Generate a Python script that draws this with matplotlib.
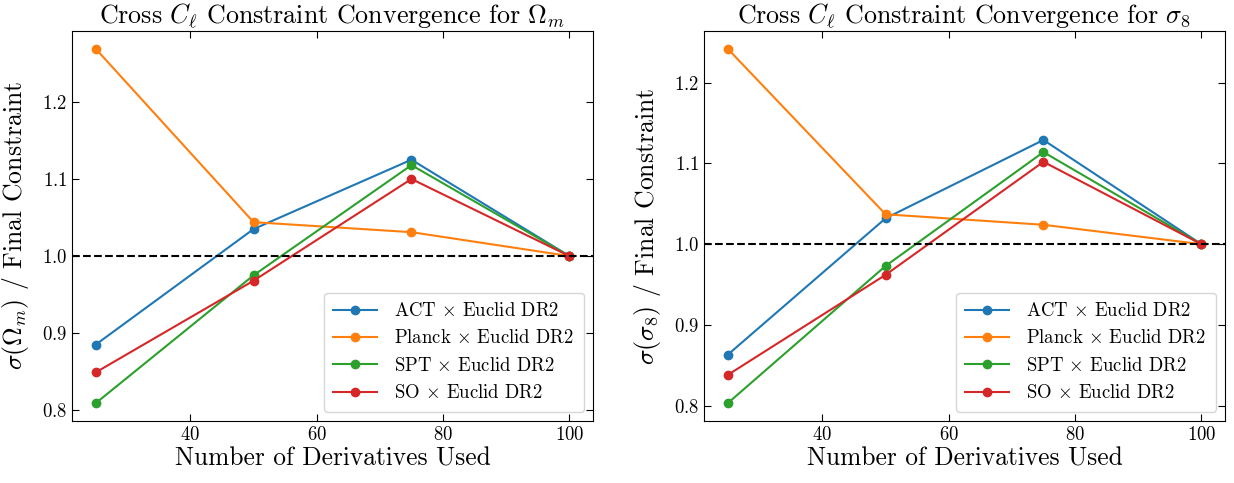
import matplotlib
matplotlib.use("Agg")
import matplotlib.pyplot as plt

plt.rcParams.update({
    "font.family": "serif",
    "font.serif": ["cmr10"],
    "mathtext.fontset": "cm",
    "axes.formatter.use_mathtext": True,
    "axes.unicode_minus": False,
})

n_derivs = [25, 50, 75, 100]
series_labels = [
    r"ACT $\times$ Euclid DR2",
    r"Planck $\times$ Euclid DR2",
    r"SPT $\times$ Euclid DR2",
    r"SO $\times$ Euclid DR2",
]
colors = ["#1f77b4", "#ff7f0e", "#2ca02c", "#d62728"]

# sigma(Omega_m) relative to final constraint
om_act = [0.885, 1.035, 1.125, 1.0]
om_planck = [1.269, 1.044, 1.031, 1.0]
om_spt = [0.809, 0.975, 1.118, 1.0]
om_so = [0.849, 0.968, 1.100, 1.0]

# sigma(sigma_8) relative to final constraint
s8_act = [0.863, 1.032, 1.129, 1.0]
s8_planck = [1.242, 1.037, 1.024, 1.0]
s8_spt = [0.803, 0.973, 1.114, 1.0]
s8_so = [0.838, 0.962, 1.102, 1.0]

panels = [
    (r"Cross $C_\ell$ Constraint Convergence for $\Omega_m$",
     r"$\sigma(\Omega_m)$ / Final Constraint",
     [om_act, om_planck, om_spt, om_so]),
    (r"Cross $C_\ell$ Constraint Convergence for $\sigma_8$",
     r"$\sigma(\sigma_8)$ / Final Constraint",
     [s8_act, s8_planck, s8_spt, s8_so]),
]

fig = plt.figure(figsize=(12.34, 4.83), dpi=100)
rects = [
    [0.0583, 0.1284, 0.4223, 0.8074],
    [0.5705, 0.1284, 0.4222, 0.8074],
]

for rect, (title, ylabel, data) in zip(rects, panels):
    ax = fig.add_axes(rect)
    for vals, lab, c in zip(data, series_labels, colors):
        ax.plot(n_derivs, vals, "o-", color=c, label=lab, markersize=6, linewidth=1.5)
    ax.axhline(1.0, color="black", linestyle="--", linewidth=1.5)
    ax.set_title(title, fontsize=18.7, pad=5)
    ax.set_xlabel("Number of Derivatives Used", fontsize=18.3, labelpad=2)
    ax.set_ylabel(ylabel, fontsize=18.5, labelpad=8)
    ax.set_xticks([40, 60, 80, 100])
    ax.set_yticks([0.8, 0.9, 1.0, 1.1, 1.2])
    ax.tick_params(direction="in", top=True, right=True, labelsize=13.5, length=5)
    ax.legend(loc="lower right", fontsize=13.5, handlelength=2.35, borderpad=0.5,
              labelspacing=0.5, handletextpad=0.9)

fig.savefig("out.png", dpi=100)
